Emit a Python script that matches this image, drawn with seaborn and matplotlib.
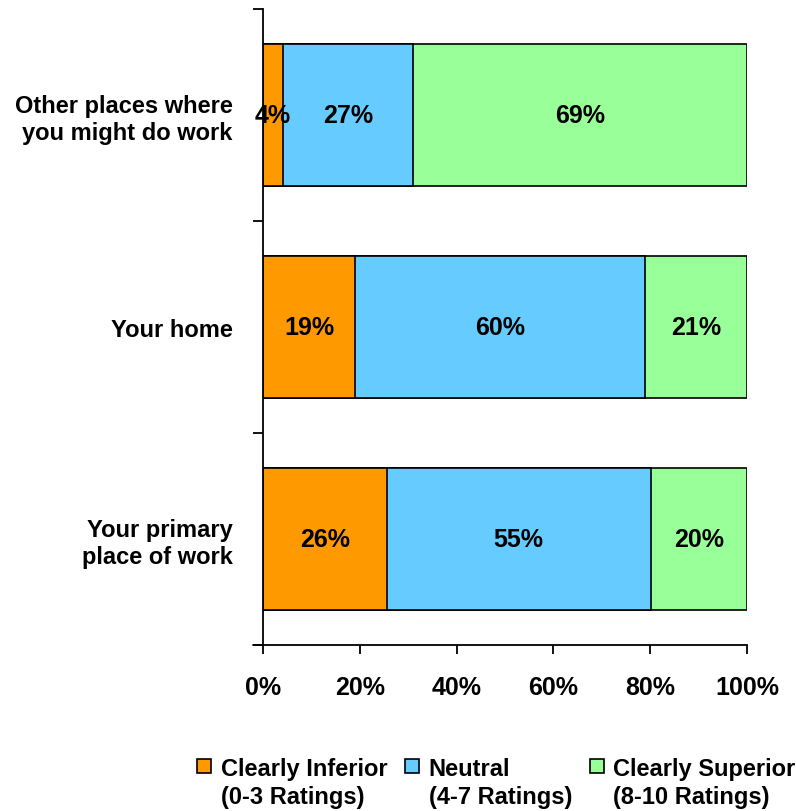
import matplotlib
matplotlib.use("Agg")
import matplotlib.pyplot as plt
import seaborn as sns
import pandas as pd
from matplotlib.patches import Patch, Rectangle
from matplotlib.lines import Line2D
from matplotlib.legend_handler import HandlerPatch

# ---- data ----
categories = ["Other places where\nyou might do work", "Your home", "Your primary\nplace of work"]
inferior = [4.1, 19.0, 25.6]
neutral = [26.9, 59.9, 54.5]
superior = [69.0, 21.1, 19.9]
inferior_labels = ["4%", "19%", "26%"]
neutral_labels = ["27%", "60%", "55%"]
superior_labels = ["69%", "21%", "20%"]
series_names = ["Clearly Inferior\n(0-3 Ratings)", "Neutral\n(4-7 Ratings)", "Clearly Superior\n(8-10 Ratings)"]
colors = ["#FF9900", "#66CCFF", "#99FF99"]
xticks = [0, 20, 40, 60, 80, 100]

sns.set_style("white")
plt.rcParams["font.family"] = ["Liberation Sans", "DejaVu Sans"]
for k in ["text.color", "axes.labelcolor", "xtick.color", "ytick.color"]:
    plt.rcParams[k] = "black"
FS = 17
FS_NUM = 18

df = pd.DataFrame({"cat": categories, "inf": inferior, "neu": neutral, "sup": superior})
df["c1"] = df["inf"]
df["c2"] = df["inf"] + df["neu"]
df["c3"] = df["inf"] + df["neu"] + df["sup"]

fig = plt.figure(figsize=(7.96, 8.12), dpi=100)
ax = fig.add_axes([263 / 796, 1 - 646 / 812, 484 / 796, 636 / 812])

for col, c in zip(["c3", "c2", "c1"], colors[::-1]):
    sns.barplot(data=df, y="cat", x=col, orient="h", color=c, saturation=1,
                width=0.67, edgecolor="black", linewidth=1.2, ax=ax, order=categories)

# segment labels
for i in range(len(categories)):
    starts = [0, df["c1"][i], df["c2"][i]]
    vals = [df["inf"][i], df["neu"][i], df["sup"][i]]
    labs = [inferior_labels[i], neutral_labels[i], superior_labels[i]]
    for s, v, l in zip(starts, vals, labs):
        ax.text(s + v / 2, i, l, ha="center", va="center", fontsize=FS_NUM, fontweight="bold", color="black")

ax.set_xlim(0, 100)
ax.set_ylim(2.5, -0.5)
ax.set_xlabel("")
ax.set_ylabel("")
ax.set_xticks(xticks)
ax.set_xticklabels([f"{t}%" for t in xticks], fontsize=FS_NUM, fontweight="bold")
ax.set_yticks([-0.5, 0.5, 1.5, 2.5])
ax.set_yticklabels([])
ax.set_yticks([0, 1, 2], minor=True)
ax.set_yticklabels(categories, minor=True, fontsize=FS, fontweight="bold")
ax.tick_params(axis="y", which="major", direction="out", length=7, width=1.3, color="black", left=True)
ax.tick_params(axis="y", which="minor", length=0, pad=22)
ax.tick_params(axis="x", which="major", direction="out", length=6.5, width=1.3, color="black", pad=15, bottom=True)

for side in ["top", "right"]:
    ax.spines[side].set_visible(False)
for side in ["left", "bottom"]:
    ax.spines[side].set_color("black")
    ax.spines[side].set_linewidth(1.3)
ax.add_line(Line2D([-0.021, 0], [0, 0], transform=ax.transAxes, color="black", lw=1.3, clip_on=False))


class TopBox(HandlerPatch):
    def create_artists(self, legend, orig_handle, xdescent, ydescent, width, height, fontsize, trans):
        s = 0.6 * fontsize
        p = Rectangle((-xdescent, -ydescent + height / 2 - s / 2 + 0.72 * fontsize), s, s)
        self.update_prop(p, orig_handle, legend)
        p.set_transform(trans)
        return [p]


handles = [Patch(facecolor=c, edgecolor="black", linewidth=1.2) for c in colors]
leg = fig.legend(handles, series_names, loc="upper left", bbox_to_anchor=(197 / 796, 1 - 758 / 812),
                 ncol=3, frameon=False, borderpad=0, borderaxespad=0, handlelength=0.6, handleheight=0.6,
                 handletextpad=0.4, columnspacing=0.75, labelspacing=0,
                 prop={"size": FS, "weight": "bold"},
                 handler_map={Patch: TopBox()})
for t in leg.get_texts():
    t.set_linespacing(1.3)
    t.set_color("black")

fig.savefig("out.png", dpi=100)
